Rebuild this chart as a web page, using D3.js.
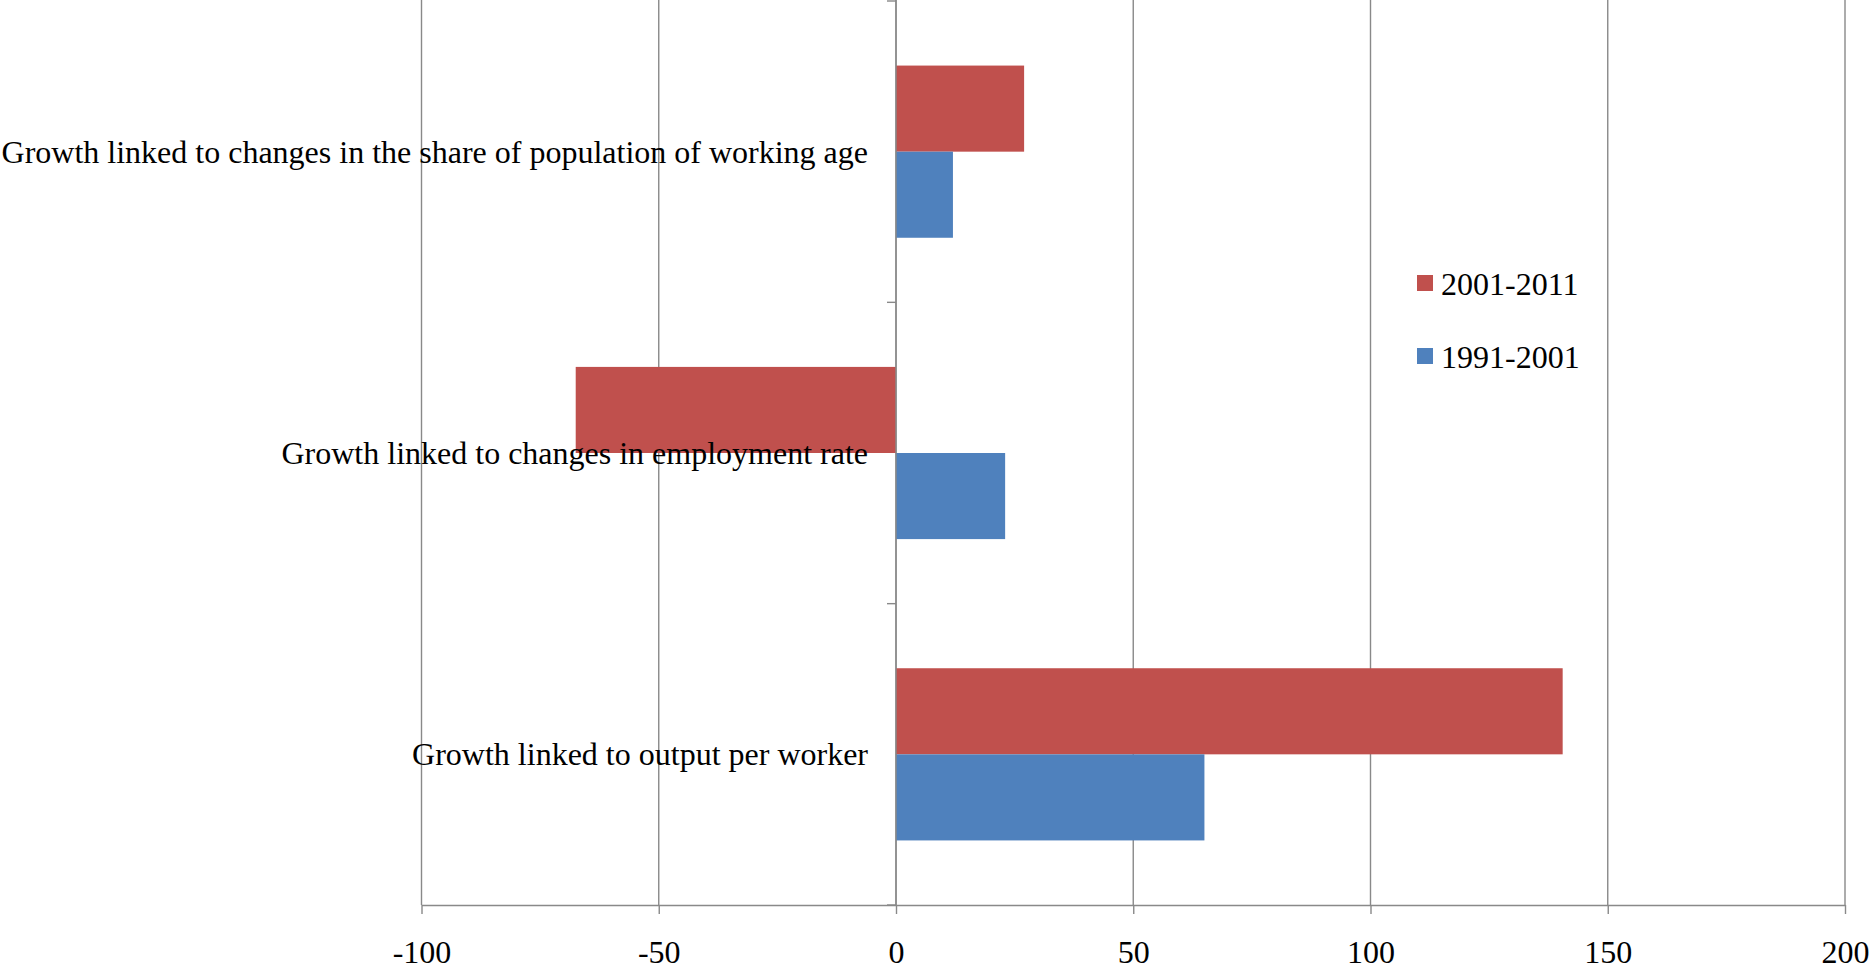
<!DOCTYPE html>
<html>
<head>
<meta charset="utf-8">
<script src="https://cdn.jsdelivr.net/npm/d3@7"></script>
<style>
  html, body { margin: 0; padding: 0; background: #fff; }
  svg { display: block; }
  text { font-family: "Liberation Serif", "Times New Roman", serif; fill: #000; }
</style>
</head>
<body>
<svg id="chart" width="1872" height="968"></svg>
<script>
// Contributions to growth, by component and period
const categories = [
  "Growth linked to changes in the share of population of working age",
  "Growth linked to changes in employment rate",
  "Growth linked to output per worker"
];
const seriesNames = ["2001-2011", "1991-2001"];
const values2001_2011 = [27, -67.5, 140.5];
const values1991_2001 = [12, 23, 65];
const seriesColors = ["#C0504D", "#4F81BD"];
const xTicks = [-100, -50, 0, 50, 100, 150, 200];

const svg = d3.select("#chart");
const width = 1872, height = 968;
const plot = { left: 421.5, right: 1845, top: 1, bottom: 905 };
const gridColor = "#898989";

const x = d3.scaleLinear().domain([-100, 200]).range([plot.left, plot.right]);
const y = d3.scaleBand().domain(categories).range([plot.top, plot.bottom]);
// Two bars per category, gap of 150% of a bar width between groups
const inner = d3.scaleBand().domain(seriesNames).range([0, y.bandwidth()])
  .paddingInner(0).paddingOuter(0.75);

// Vertical gridlines
svg.append("g").selectAll("line").data(xTicks).join("line")
  .attr("x1", d => x(d)).attr("x2", d => x(d))
  .attr("y1", 0).attr("y2", plot.bottom)
  .attr("stroke", gridColor).attr("stroke-width", 1.4);

// Bars
const rows = categories.map((c, i) => ({
  cat: c,
  vals: [values2001_2011[i], values1991_2001[i]]
}));
const groups = svg.append("g").selectAll("g").data(rows).join("g")
  .attr("transform", d => `translate(0,${y(d.cat)})`);
groups.selectAll("rect")
  .data(d => d.vals.map((v, j) => ({ v, s: seriesNames[j], color: seriesColors[j] })))
  .join("rect")
  .attr("x", d => x(Math.min(0, d.v)))
  .attr("width", d => Math.abs(x(d.v) - x(0)))
  .attr("y", d => inner(d.s))
  .attr("height", inner.bandwidth())
  .attr("fill", d => d.color);

// Horizontal (value) axis
const xAxis = d3.axisBottom(x).tickValues(xTicks).tickSize(9).tickSizeOuter(0).tickFormat(d3.format("d"));
const gx = svg.append("g").attr("transform", `translate(0,${plot.bottom})`).call(xAxis);
gx.select(".domain").attr("stroke", gridColor).attr("stroke-width", 1.4);
gx.selectAll(".tick line").attr("stroke", gridColor).attr("stroke-width", 1.4);
gx.selectAll(".tick text")
  .attr("y", 58).attr("dy", 0)
  .style("font-family", "'Liberation Serif', 'Times New Roman', serif")
  .style("font-size", "32px").attr("fill", "#000")
  .text(d => d < 0 ? "-" + Math.abs(d) : d);

// Vertical (category) axis at zero, ticks between categories
const boundaries = [plot.top, ...categories.slice(1).map(c => y(c)), plot.bottom];
const gy = svg.append("g");
gy.append("line")
  .attr("x1", x(0)).attr("x2", x(0)).attr("y1", 0).attr("y2", plot.bottom)
  .attr("stroke", gridColor).attr("stroke-width", 1.4);
gy.selectAll("line.tick").data(boundaries).join("line")
  .attr("class", "tick")
  .attr("x1", x(0) - 9).attr("x2", x(0))
  .attr("y1", d => d).attr("y2", d => d)
  .attr("stroke", gridColor).attr("stroke-width", 1.4);

// Category labels
svg.append("g").selectAll("text").data(categories).join("text")
  .attr("x", x(0) - 28)
  .attr("y", d => y(d) + y.bandwidth() / 2 + 11)
  .attr("text-anchor", "end")
  .style("font-size", "32px")
  .text(d => d);

// Legend
const legend = svg.append("g").attr("transform", "translate(1417,275)");
const li = legend.selectAll("g").data(seriesNames).join("g")
  .attr("transform", (d, i) => `translate(0,${i * 73})`);
li.append("rect").attr("width", 16).attr("height", 16)
  .attr("fill", (d, i) => seriesColors[i]);
li.append("text").attr("x", 24).attr("y", 20)
  .style("font-size", "32px").text(d => d);
</script>
</body>
</html>
